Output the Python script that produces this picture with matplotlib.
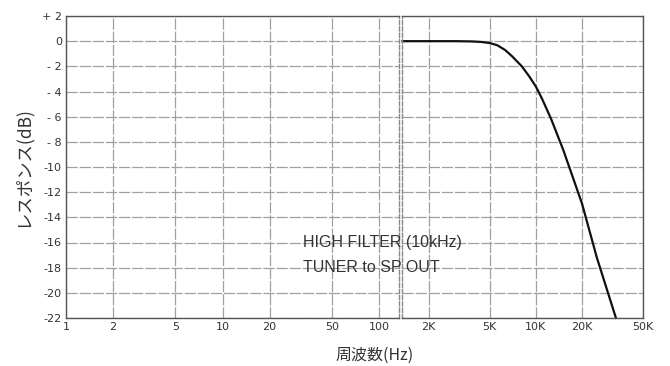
import matplotlib
matplotlib.use('Agg')
import matplotlib.pyplot as plt

plt.rcParams['font.family'] = ['DejaVu Sans', 'Noto Sans CJK JP']

# frequency response (Hz, dB)
freq = [1350, 2000, 3000, 3800, 4400, 5000, 5600, 6300, 7000, 8100, 9000, 10000, 11000, 12600, 15100, 20000, 25000, 33300]
resp = [0, 0, 0, -0.02, -0.06, -0.15, -0.32, -0.7, -1.2, -2.0, -2.75, -3.6, -4.6, -6.2, -8.65, -12.9, -17.2, -22]

low_ticks = [1, 2, 5, 10, 20, 50, 100]
low_labels = ['1', '2', '5', '10', '20', '50', '100']
high_ticks = [2000, 5000, 10000, 20000, 50000]
high_labels = ['2K', '5K', '10K', '20K', '50K']
db_ticks = list(range(2, -23, -2))
db_labels = ['+ 2', '0'] + ['- %d' % -v if v > -10 else '-%d' % -v for v in db_ticks[2:]]

W, H = 670, 366
fig = plt.figure(figsize=(6.7, 3.66), dpi=100)
bottom = (H - 318) / H
height = 302 / H
ax1 = fig.add_axes([66 / W, bottom, (399 - 66) / W, height])
ax2 = fig.add_axes([402 / W, bottom, (643 - 402) / W, height])

grid_col = '#a0a0a0'
frame_col = '#555555'
txt_col = '#333333'
narrow = ['Liberation Sans Narrow', 'Liberation Sans', 'DejaVu Sans']

ax1.set_xscale('log')
ax1.set_xlim(1, 134)
ax2.set_xscale('log')
ax2.set_xlim(1340, 50000)

for ax in (ax1, ax2):
    ax.set_ylim(-22, 2)
    ax.set_yticks(db_ticks)
    ax.minorticks_off()
    ax.grid(True, color=grid_col, lw=0.9, ls=(0, (9, 1.5)))
    ax.tick_params(length=0, labelsize=8, colors=txt_col, pad=3)
    for s in ax.spines.values():
        s.set_color(frame_col)
        s.set_linewidth(1.0)

ax1.set_xticks(low_ticks)
ax1.set_xticklabels(low_labels)
ax1.set_yticklabels(db_labels)
ax1.spines['right'].set_linestyle((0, (3, 1.5)))
ax1.spines['right'].set_color('#888888')

ax2.set_xticks(high_ticks)
ax2.set_xticklabels(high_labels)
ax2.set_yticklabels([])
ax2.spines['left'].set_linestyle((0, (3, 1.5)))
ax2.spines['left'].set_color('#888888')

ax2.plot(freq, resp, color='#111111', lw=1.6, clip_on=False)

# caption crosses the axis break, so put it on the figure
fig.text(303 / W, 1 - 243 / H, 'HIGH FILTER (10kHz)', fontsize=11.5, color=txt_col,
         va='center', ha='left', zorder=10, family=narrow)
fig.text(303 / W, 1 - 267 / H, 'TUNER to SP OUT', fontsize=11.5, color=txt_col,
         va='center', ha='left', zorder=10, family=narrow)

fig.text(22 / W, 1 - 167 / H, 'レスポンス(dB)', rotation=90, va='center', ha='center',
         fontsize=12.5, color=txt_col, family=['Noto Sans CJK JP', 'DejaVu Sans'])
fig.text(375 / W, 1 - 355 / H, '周波数(Hz)', va='center', ha='center',
         fontsize=11.5, color=txt_col, family=['Noto Sans CJK JP', 'DejaVu Sans'])

fig.savefig('out.png', dpi=100, facecolor='white')
